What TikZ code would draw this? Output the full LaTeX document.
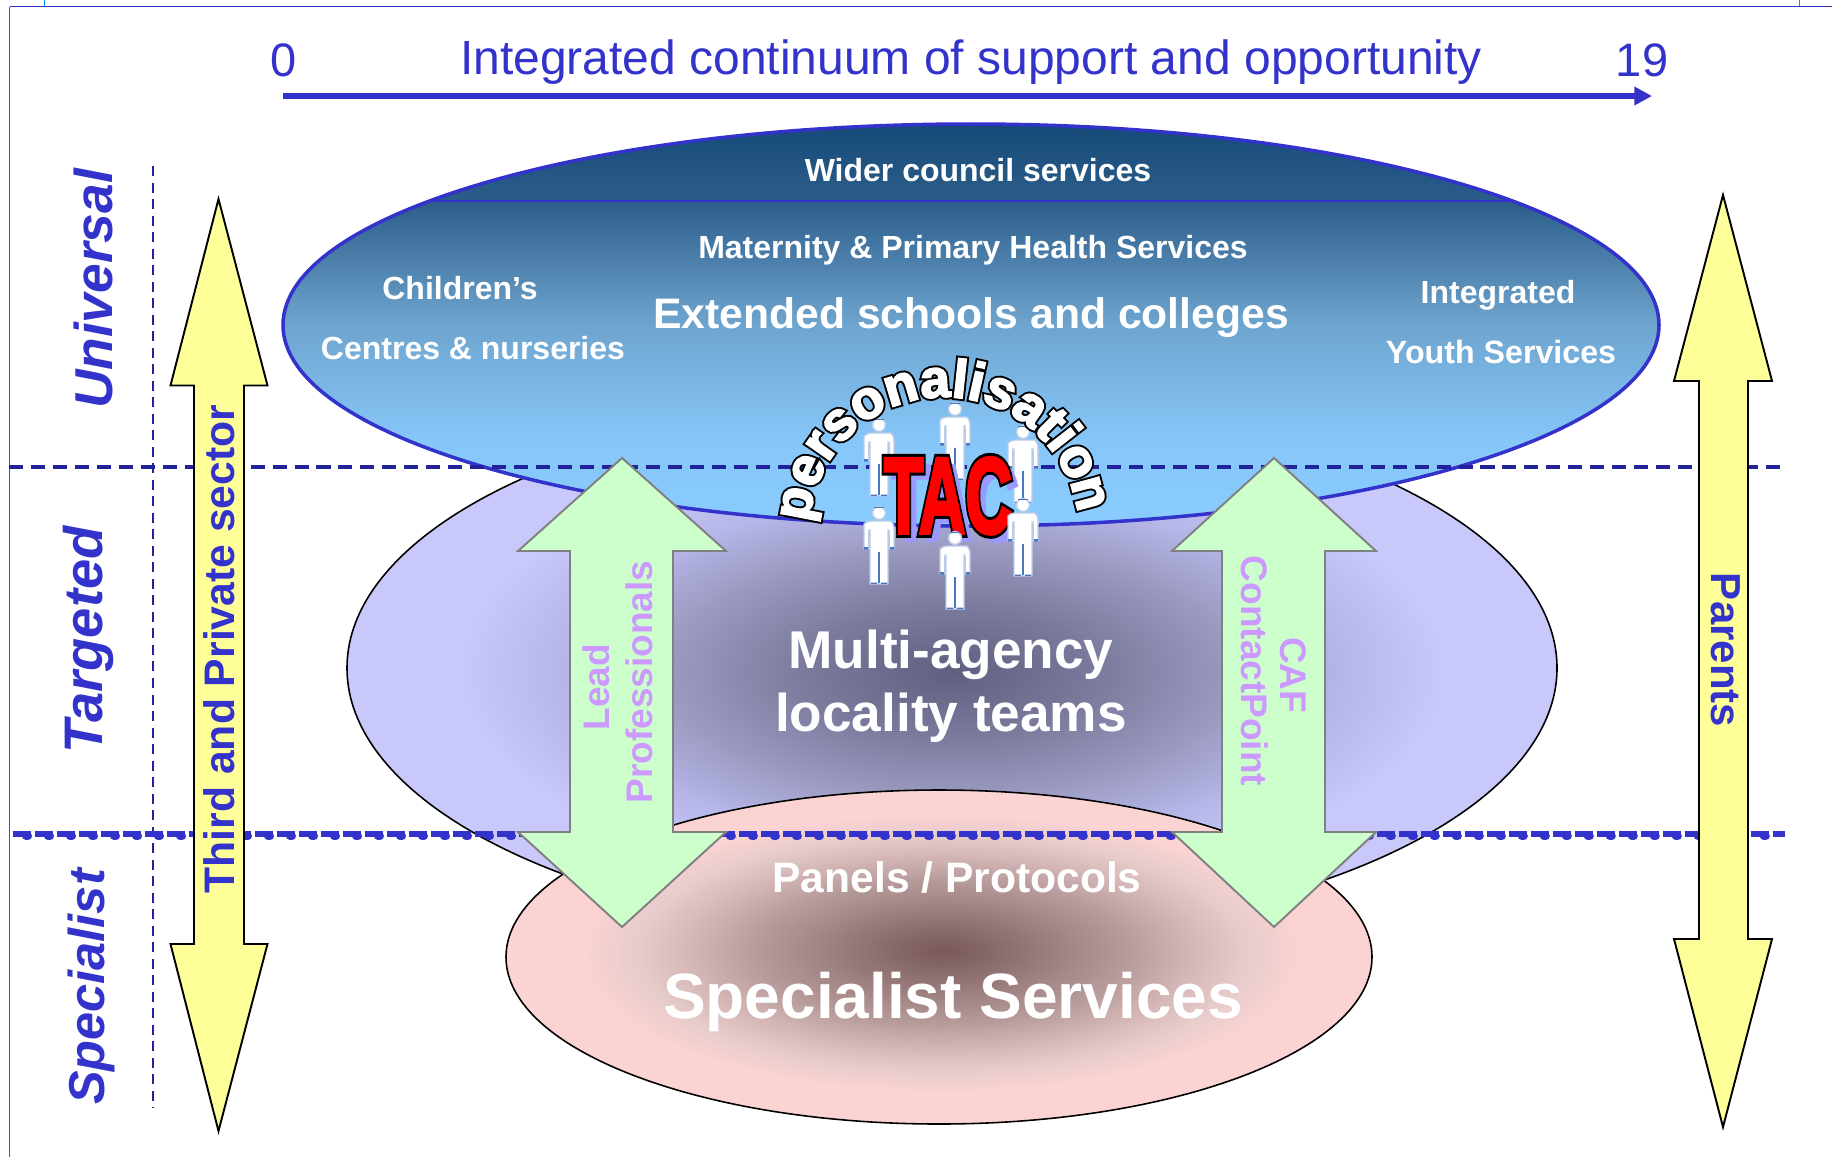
\documentclass[tikz,border=0pt]{standalone}
\usepackage{fontspec}
\setmainfont{Liberation Sans}
\usetikzlibrary{arrows.meta}
\definecolor{ink}{HTML}{3333CC}
\definecolor{navy}{HTML}{22229A}
\definecolor{frameblue}{HTML}{4444DD}
\definecolor{tick}{HTML}{0099FF}
\definecolor{yell}{HTML}{FFFF99}
\definecolor{mint}{HTML}{CCFFCC}
\definecolor{lilac}{HTML}{CC99FF}
\definecolor{tacshadow}{HTML}{9999FF}
\definecolor{tacred}{HTML}{FF0000}
\definecolor{figedge}{HTML}{B9CBE8}
\definecolor{figblue}{HTML}{4A78C0}
\definecolor{bA}{HTML}{154A78}\definecolor{bB}{HTML}{2C5D8A}\definecolor{bC}{HTML}{6EA5CF}\definecolor{bD}{HTML}{86C6F8}\definecolor{bE}{HTML}{8ACCFF}
\definecolor{pA}{HTML}{5F5F80}\definecolor{pB}{HTML}{7A7A9C}\definecolor{pC}{HTML}{9A9AC0}\definecolor{pD}{HTML}{B5B5E8}\definecolor{pE}{HTML}{C8C8FA}
\definecolor{rA}{HTML}{785858}\definecolor{rB}{HTML}{947676}\definecolor{rC}{HTML}{B89C9C}\definecolor{rD}{HTML}{D4B6B6}\definecolor{rE}{HTML}{E6CBCB}\definecolor{rF}{HTML}{FCD3D3}
\pgfdeclareverticalshading{blueell}{100bp}{color(0bp)=(bE);color(25bp)=(bE);color(35.7bp)=(bD);color(50bp)=(bC);color(65.4bp)=(bB);color(75bp)=(bA);color(100bp)=(bA)}
\pgfdeclareradialshading{purpell}{\pgfpoint{0bp}{-0.4bp}}{color(0bp)=(pA);color(6bp)=(pB);color(11.5bp)=(pC);color(16bp)=(pD);color(20.4bp)=(pE);color(50bp)=(pE)}
\pgfdeclareradialshading{pinkell}{\pgfpoint{0.2bp}{1bp}}{color(0bp)=(rA);color(5bp)=(rB);color(10.9bp)=(rC);color(14.5bp)=(rD);color(17.5bp)=(rE);color(21bp)=(rF);color(50bp)=(rF)}
\newcommand\pxf[1]{\fontsize{\fpeval{0.569*#1}pt}{\fpeval{0.65*#1}pt}\selectfont}
\newcommand\outlined[3]{\special{pdf:code q 2 Tr #1 w #2 RG}#3\special{pdf:code Q}}
\tikzset{
 x=0.02cm,y=-0.02cm,
 txt/.style={inner sep=0pt,outer sep=0pt},
 white lab/.style={txt,anchor=base,text=white,font=\bfseries\pxf{#1}},
 side lab/.style={txt,text=ink,font=\bfseries\itshape\pxf{#1},rotate=90},
 lilac lab/.style={txt,text=lilac,font=\bfseries\pxf{37},rotate=#1},
 green arrow/.style={draw=black!50,fill=mint,line width=1.1pt,line join=miter},
 yellow arrow/.style={draw=black,fill=yell,line width=1.1pt,line join=miter},
 person/.pic={
  \fill[white,draw=figedge,line width=.8pt] (-15,18) to[rounded corners=2] (-12,15) -- (12,15) to[rounded corners=2] (15,18) -- (15,43) -- (10,43) -- (10,24) -- (9,24) -- (9,78) -- (-9,78) -- (-9,24) -- (-10,24) -- (-10,43) -- (-15,43) -- cycle;
  \fill[white,draw=figedge,line width=.8pt] (0,7) circle[radius=6.5];
  \fill[figblue] (-5,0.5) rectangle (5,1.5);
  \draw[figblue,line width=.9pt] (0,46) -- (0,77);
  \draw[figedge,line width=.9pt] (-10.5,26) -- (-10.5,42) (10.5,26) -- (10.5,42);
  \fill[figblue] (-15,41) rectangle (-11,43.5) (11,41) rectangle (15,43.5) (-8,76.5) rectangle (-2,78) (2,76.5) rectangle (8,78);
 }
}
\begin{document}
\begin{tikzpicture}
\useasboundingbox (0,0) rectangle (1832,1157);
\fill[white] (0,0) rectangle (1832,1157);
% frame
\coordinate (ftl) at (9.5,6.5);
\coordinate (ftr) at (1832,6.5);
\coordinate (fbl) at (9.5,1157);
\draw[ink,line width=1.1pt] (ftl) -- (ftr);
\draw[frameblue,line width=1.1pt] (ftl) -- (fbl);
\draw[tick,line width=1.1pt] (44.5,0) -- (44.5,6);
\draw[tick,line width=1.1pt] (1799.5,0) -- (1799.5,6);
% ellipses
\path[shading=purpell,draw=black,line width=.9pt] (952,668) ellipse[x radius=605,y radius=269];
\path[shading=pinkell,draw=black,line width=.9pt] (939,957) ellipse[x radius=433,y radius=167];
\path[shading=blueell] (971,325) ellipse[x radius=688,y radius=201];
\begin{scope}
 \clip (971,325) ellipse[x radius=688,y radius=201];
 \draw[ink,line width=1.1pt] (283,201) -- (1659,201);
\end{scope}
\draw[ink,line width=2pt] (971,325) ellipse[x radius=688,y radius=201];
% band lines
\draw[navy,line width=1.8pt,dash pattern=on 8pt off 4.5pt] (9,467) -- (1785,467);
\draw[navy,line width=1.4pt,dash pattern=on 5.7pt off 3.7pt] (153,166) -- (153,1108);
\draw[ink,line width=3.4pt,dash pattern=on 10.24pt off 2.28pt] (13,834) -- (1785,834);
\draw[ink,line width=4.6pt,line cap=round,dash pattern=on 1.14pt off 11.38pt] (26,836) -- (1785,836);
% arrows
\draw[green arrow] (622,458) -- (726,551) -- (673,551) -- (673,832) -- (726,832) -- (622,927) -- (518,832) -- (570,832) -- (570,551) -- (518,551) -- cycle;
\draw[green arrow] (1274,458) -- (1376,551) -- (1325,551) -- (1325,832) -- (1376,832) -- (1274,927) -- (1172,832) -- (1222,832) -- (1222,551) -- (1172,551) -- cycle;
\draw[yellow arrow] (218.5,199) -- (267.5,385.5) -- (244,385.5) -- (244,944) -- (267.5,944) -- (218.5,1131) -- (170.5,944) -- (194,944) -- (194,385.5) -- (170.5,385.5) -- cycle;
\draw[yellow arrow] (1723,195) -- (1772,381) -- (1748,381) -- (1748,939) -- (1772,939) -- (1723,1127) -- (1674,939) -- (1699,939) -- (1699,381) -- (1674,381) -- cycle;
% top scale
\coordinate (sl) at (283,96);
\coordinate (sr) at (1652,96);
\draw[ink,line width=3.4pt,-{Triangle[length=10pt,width=10pt]}] (sl) -- (sr);
\node[txt,anchor=base,text=ink,font=\pxf{47}] (n0) at (284,76) {0};
\node[txt,anchor=base,text=ink,font=\pxf{48}] (title) at (971,74) {Integrated continuum of support and opportunity};
\node[txt,anchor=base,text=ink,font=\pxf{47}] (n19) at (1642,76) {19};
% side labels
\node[side lab=53.3] (univ) at (93,289) {Universal};
\node[side lab=54.3] (targ) at (88,640) {Targeted};
\node[side lab=50.5] (spec) at (91,987) {Specialist};
\node[txt,text=ink,font=\bfseries\pxf{42.7},rotate=90] (third) at (219,649) {Third and Private sector};
\node[txt,text=ink,font=\bfseries\pxf{42},rotate=-90] (parents) at (1726,650) {Parents};
% arrow labels
\node[lilac lab=90] (lead) at (596,687) {Lead};
\node[lilac lab=90] (prof) at (639,682) {Professionals};
\node[lilac lab=-90] (caf) at (1293,675) {CAF};
\node[lilac lab=-90] (cp) at (1255,671) {ContactPoint};
% white labels
\node[white lab=32] (wider) at (978,181) {Wider council services};
\node[white lab=32] (mat) at (973,258) {Maternity \& Primary Health Services};
\node[white lab=32] (chil) at (460,299) {Children’s};
\node[white lab=32] (cent) at (473,359) {Centres \& nurseries};
\node[white lab=42.7] (ext) at (971,328) {Extended schools and colleges};
\node[white lab=32] (integ) at (1498,303) {Integrated};
\node[white lab=32.2] (youth) at (1501,363) {Youth Services};
\node[white lab=53.2] (multi) at (951,668) {Multi-agency};
\node[white lab=53.2] (local) at (951,731) {locality teams};
\node[white lab=42.6] (panels) at (957,892) {Panels / Protocols};
\node[white lab=64] (specs) at (953,1018) {Specialist Services};
% people behind TAC
\pic at (879,418) {person};
\pic at (955,402) {person};
\pic at (1023,425) {person};
% TAC
\node[txt,anchor=base,text=tacshadow,font=\bfseries\pxf{108}] (tacs) at (955,540) {\scalebox{.6}[1]{\outlined{2}{0.6 0.6 1}{TAC}}};
\node[txt,anchor=base,text=tacred,font=\bfseries\pxf{108}] (tac) at (948,533) {\scalebox{.6}[1]{\rlap{\outlined{5.4}{0 0 0}{TAC}}\outlined{2}{1 0 0}{TAC}}};
% people in front of TAC
\pic at (879,506) {person};
\pic at (955,531) {person};
\pic at (1023,498) {person};
% personalisation
\foreach \ch/\a [count=\i] in {p/-79.0,e/-65.7,r/-54.9,s/-44.1,o/-30.7,n/-16.7,a/-3.4,l/6.1,i/12.5,s/22.0,a/34.8,t/44.9,i/51.9,o/62.1,n/75.0}{
 \node[txt,anchor=base,rotate=-\a,text=white,font=\bfseries\pxf{54}] (pl\i) at ({944+135*sin(\a)},{532-135*cos(\a)}) {\rlap{\outlined{3.2}{0 0 0}{\ch}}\outlined{1}{1 1 1}{\ch}};
}
\end{tikzpicture}
\end{document}
